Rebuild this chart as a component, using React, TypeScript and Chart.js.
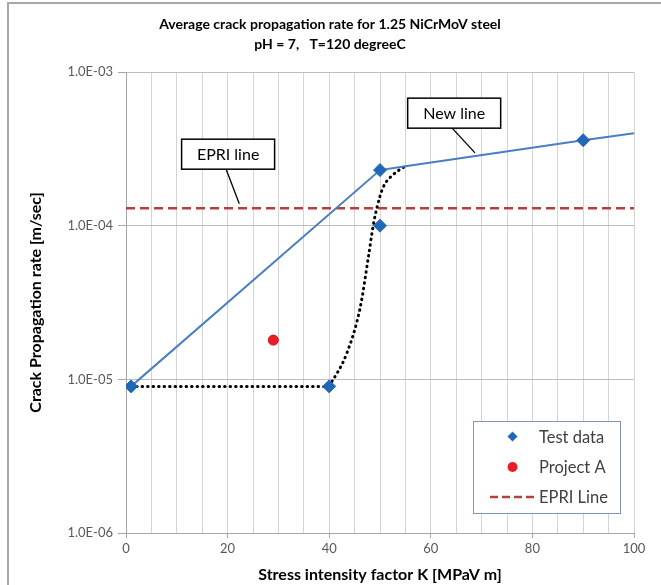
import React, { useEffect, useRef } from 'react';
import { Chart, registerables } from 'chart.js';

Chart.register(...registerables);

const titleLines = ['Average crack propagation rate for 1.25 NiCrMoV steel', 'pH = 7,   T=120 degreeC'];
const xTitle = 'Stress intensity factor K [MPaV m]';
const yTitle = 'Crack Propagation rate [m/sec]';
const yTickValues = [1e-6, 1e-5, 1e-4, 1e-3];
const xTickLabels = [0, 20, 40, 60, 80, 100];

const testK = [1, 40, 50, 50, 90];
const testRate = [9e-6, 9e-6, 1.0e-4, 2.3e-4, 3.6e-4];
const projectK = [29];
const projectRate = [1.8e-5];
const epriK = [0, 100];
const epriRate = [1.3e-4, 1.3e-4];
const newLineK = [1, 50, 55, 90, 100];
const newLineRate = [9e-6, 2.3e-4, 2.44e-4, 3.6e-4, 4.0e-4];
const flatK = [1, 40];
const flatRate = [9e-6, 9e-6];
const curveK = [40, 43.4, 46.1, 47.7, 48.7, 49.4, 50.6, 52.6, 55];
const curveRate = [9e-6, 1.46e-5, 2.93e-5, 6.2e-5, 1.02e-4, 1.31e-4, 1.77e-4, 2.15e-4, 2.44e-4];

const legendLabels = ['Test data', 'Project A', 'EPRI Line'];
const callouts = [
  { text: 'EPRI line', boxK: 20.1, boxRate: 2.92e-4, tipK: 22.3, tipRate: 1.39e-4 },
  { text: 'New line', boxK: 64.6, boxRate: 5.4e-4, tipK: 68.7, tipRate: 2.98e-4 },
];

const BLUE_LINE = '#4a7ec2';
const BLUE_MARK = '#2167b8';
const RED = '#ec1c24';
const EPRI_RED = '#b5403a';
const FONT = 'Lato, "Open Sans", sans-serif';

const pts = (xs: number[], ys: number[]) => xs.map((x, i) => ({ x, y: ys[i] }));

const fmtExp = (v: number) => {
  const e = Math.round(Math.log10(v));
  return `1.0E${e < 0 ? '-' : '+'}${String(Math.abs(e)).padStart(2, '0')}`;
};

const overlayPlugin = {
  id: 'overlay',
  afterDraw(chart: any) {
    const { ctx, chartArea, scales } = chart;
    const xs = scales.x;
    const ys = scales.y;
    ctx.save();
    // callouts
    ctx.font = `16px ${FONT}`;
    ctx.textAlign = 'center';
    ctx.textBaseline = 'middle';
    for (const c of callouts) {
      const cx = xs.getPixelForValue(c.boxK);
      const cy = ys.getPixelForValue(c.boxRate);
      const w = 93;
      const h = 30;
      const tx = xs.getPixelForValue(c.tipK);
      const ty = ys.getPixelForValue(c.tipRate);
      ctx.strokeStyle = '#000';
      ctx.lineWidth = 1.3;
      ctx.beginPath();
      ctx.moveTo(cx - 2, cy + h / 2);
      ctx.lineTo(tx, ty);
      ctx.stroke();
      ctx.fillStyle = '#fff';
      ctx.fillRect(cx - w / 2, cy - h / 2, w, h);
      ctx.lineWidth = 1.5;
      ctx.strokeRect(cx - w / 2, cy - h / 2, w, h);
      ctx.fillStyle = '#000';
      ctx.fillText(c.text, cx, cy + 1);
    }
    // legend
    const lw = 147;
    const lh = 92;
    const lx = chartArea.right - 14 - lw;
    const ly = chartArea.bottom - 20 - lh;
    ctx.fillStyle = '#fff';
    ctx.fillRect(lx, ly, lw, lh);
    ctx.strokeStyle = '#8096b4';
    ctx.lineWidth = 1;
    ctx.strokeRect(lx + 0.5, ly + 0.5, lw, lh);
    const rows = [ly + 15.5, ly + 46, ly + 76];
    const mx = lx + 39.5;
    ctx.fillStyle = BLUE_MARK;
    ctx.beginPath();
    ctx.moveTo(mx, rows[0] - 5);
    ctx.lineTo(mx + 5, rows[0]);
    ctx.lineTo(mx, rows[0] + 5);
    ctx.lineTo(mx - 5, rows[0]);
    ctx.closePath();
    ctx.fill();
    ctx.fillStyle = RED;
    ctx.beginPath();
    ctx.arc(mx, rows[1], 5, 0, Math.PI * 2);
    ctx.fill();
    ctx.strokeStyle = EPRI_RED;
    ctx.lineWidth = 2.5;
    ctx.setLineDash([8, 4]);
    ctx.beginPath();
    ctx.moveTo(lx + 17, rows[2]);
    ctx.lineTo(lx + 65, rows[2]);
    ctx.stroke();
    ctx.setLineDash([]);
    ctx.fillStyle = '#404040';
    ctx.font = `16.5px ${FONT}`;
    ctx.textAlign = 'left';
    ctx.textBaseline = 'middle';
    legendLabels.forEach((t, i) => ctx.fillText(t, lx + 66, rows[i] + 1));
    ctx.restore();
  },
};

export default function App() {
  const ref = useRef<HTMLCanvasElement | null>(null);
  useEffect(() => {
    if (!ref.current) return;
    const chart = new Chart(ref.current, {
      type: 'scatter',
      data: {
        datasets: [
          {
            label: legendLabels[0],
            data: pts(testK, testRate),
            pointStyle: 'rectRot',
            pointRadius: 6.5,
            backgroundColor: BLUE_MARK,
            borderColor: BLUE_MARK,
            borderWidth: 1,
            showLine: false,
          },
          {
            label: legendLabels[1],
            data: pts(projectK, projectRate),
            pointStyle: 'circle',
            pointRadius: 5,
            backgroundColor: RED,
            borderColor: '#d01010',
            borderWidth: 1,
            showLine: false,
          },
          {
            label: 'New line',
            data: pts(newLineK, newLineRate),
            showLine: true,
            pointRadius: 0,
            borderColor: BLUE_LINE,
            borderWidth: 2,
            tension: 0,
          },
          {
            label: 'Trend flat',
            data: pts(flatK, flatRate),
            showLine: true,
            pointRadius: 0,
            borderColor: '#000',
            borderWidth: 3,
            borderDash: [0.5, 5],
            borderCapStyle: 'round',
          },
          {
            label: 'Trend curve',
            data: pts(curveK, curveRate),
            showLine: true,
            pointRadius: 0,
            borderColor: '#000',
            borderWidth: 3,
            borderDash: [0.5, 5],
            borderCapStyle: 'round',
            cubicInterpolationMode: 'monotone',
          },
          {
            label: legendLabels[2],
            data: pts(epriK, epriRate),
            showLine: true,
            pointRadius: 0,
            borderColor: EPRI_RED,
            borderWidth: 2.5,
            borderDash: [9, 5],
          },
        ],
      } as any,
      options: {
        animation: false,
        responsive: false,
        layout: { padding: { left: 26, right: 27, top: 0, bottom: 0 } },
        plugins: {
          legend: { display: false },
          tooltip: { enabled: false },
          title: {
            display: true,
            text: titleLines,
            color: '#000',
            font: { family: FONT, size: 14, weight: 'bold', lineHeight: 1.43 },
            padding: { top: 14, bottom: 18 },
          },
        },
        scales: {
          x: {
            type: 'linear',
            min: 0,
            max: 100,
            afterFit: (s: any) => {
              s.height = 52;
            },
            ticks: {
              stepSize: 5,
              autoSkip: false,
              maxRotation: 0,
              color: '#595959',
              font: { family: FONT, size: 13 },
              padding: 3,
              callback: (v: any) => (xTickLabels.includes(Number(v)) ? String(v) : ''),
            },
            grid: {
              color: '#d4d4d4',
              tickLength: 5,
              tickColor: (c: any) =>
                c.tick && xTickLabels.includes(c.tick.value) ? '#a6a6a6' : 'rgba(0,0,0,0)',
            },
            border: { color: '#a6a6a6' },
            title: {
              display: true,
              text: xTitle,
              color: '#000',
              font: { family: FONT, size: 16, weight: 'bold', lineHeight: 1.2 },
              padding: { top: 0, bottom: 1 },
            },
          },
          y: {
            type: 'logarithmic',
            min: 1e-6,
            max: 1e-3,
            afterFit: (s: any) => {
              s.width = 100;
            },
            afterBuildTicks: (s: any) => {
              s.ticks = yTickValues.map((v) => ({ value: v, major: true }));
            },
            ticks: {
              color: '#595959',
              font: { family: FONT, size: 13 },
              padding: 5,
              callback: (v: any) => fmtExp(Number(v)),
            },
            grid: {
              color: '#bdbdbd',
              tickLength: 8,
              tickColor: '#a6a6a6',
            },
            border: { color: '#a6a6a6' },
            title: {
              display: true,
              text: yTitle,
              color: '#000',
              font: { family: FONT, size: 16, weight: 'bold', lineHeight: 1.2 },
              padding: { top: 0, bottom: 0 },
            },
          },
        },
      } as any,
      plugins: [overlayPlugin],
    });
    return () => chart.destroy();
  }, []);

  return (
    <div style={{ position: 'fixed', left: 0, top: 0, width: 661, height: 585, background: '#fff' }}>
      <div
        style={{
          position: 'absolute',
          left: 7,
          top: 2,
          right: 0,
          bottom: 0,
          borderLeft: '2px solid #a8a8a8',
          borderTop: '2px solid #a8a8a8',
        }}
      />
      <canvas ref={ref} width={661} height={585} style={{ position: 'absolute', left: 0, top: 0 }} />
    </div>
  );
}
